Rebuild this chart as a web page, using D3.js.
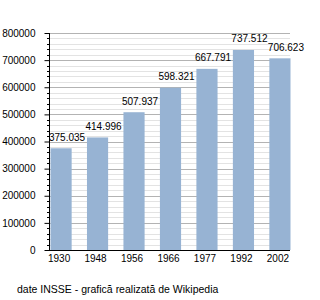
<!DOCTYPE html>
<html><head><meta charset="utf-8">
<script src="https://cdn.jsdelivr.net/npm/d3@7"></script>
<style>
html,body{margin:0;padding:0;background:#fff;}
svg{display:block;font-family:"Liberation Sans",Arial,sans-serif;}
</style></head>
<body><svg id="c" width="320" height="300"></svg>
<script>
const years = ["1930","1948","1956","1966","1977","1992","2002"];
const population = [375035, 414996, 507937, 598321, 667791, 737512, 706623];
const valueLabels = ["375.035","414.996","507.937","598.321","667.791","737.512","706.623"];
const yTicks = [0,100000,200000,300000,400000,500000,600000,700000,800000];
const footer = "date INSSE - grafică realizată de Wikipedia";

const svg = d3.select("#c");
const L = 49, R = 290, T = 33, B = 250;
const y = d3.scaleLinear().domain([0,800000]).range([B,T]);
const x = d3.scaleBand().domain(years).range([50.5,290.5]).paddingInner(0.42).paddingOuter(0);

// minor grid
const minor = d3.range(0,800001,20000).filter(v => v % 100000 !== 0);
svg.append("g").selectAll("line").data(minor).join("line")
  .attr("x1",L).attr("x2",R).attr("y1",d=>Math.round(y(d))+0.5).attr("y2",d=>Math.round(y(d))+0.5)
  .attr("stroke","#e3e3e3").attr("stroke-width",1);
// major grid
svg.append("g").selectAll("line").data(yTicks.filter(v=>v>0)).join("line")
  .attr("x1",L).attr("x2",R).attr("y1",d=>Math.round(y(d))+0.5).attr("y2",d=>Math.round(y(d))+0.5)
  .attr("stroke","#b3b3b3").attr("stroke-width",1);

// bars
svg.append("g").selectAll("rect").data(population).join("rect")
  .attr("x",(d,i)=>x(years[i])).attr("width",x.bandwidth())
  .attr("y",d=>y(d)).attr("height",d=>B-y(d))
  .attr("fill","#97b3d3");

// value labels
svg.append("g").selectAll("text").data(population).join("text")
  .attr("x",(d,i)=>x(years[i])+x.bandwidth()/2+6).attr("y",d=>y(d)-7.5)
  .attr("text-anchor","middle").attr("font-size",10).attr("fill","#000")
  .text((d,i)=>valueLabels[i]);

// y axis
const yAxis = d3.axisLeft(y).tickValues(yTicks).tickFormat(d3.format("d")).tickSize(5).tickPadding(9);
const gy = svg.append("g").attr("transform",`translate(${L+0.5},0)`).call(yAxis);
gy.select(".domain").attr("stroke","#000").attr("d",`M0,${T}V${B}`);
gy.selectAll("text").attr("font-size",10).attr("font-family","Liberation Sans, Arial, sans-serif").attr("fill","#000");
gy.selectAll(".tick line").attr("stroke","#000");
// minor ticks
svg.append("g").selectAll("line").data(minor).join("line")
  .attr("x1",L-2).attr("x2",L).attr("y1",d=>Math.round(y(d))+0.5).attr("y2",d=>Math.round(y(d))+0.5)
  .attr("stroke","#000");

// x axis
const xAxis = d3.axisBottom(x).tickSize(0).tickPadding(4);
const gx = svg.append("g").attr("transform",`translate(-2,${B+0.5})`).call(xAxis);
gx.select(".domain").remove();
gx.selectAll("text").attr("font-size",10).attr("font-family","Liberation Sans, Arial, sans-serif").attr("fill","#000");
svg.append("line").attr("x1",L).attr("x2",R).attr("y1",B+0.5).attr("y2",B+0.5).attr("stroke","#000");

// footer
svg.append("text").attr("x",17).attr("y",293).attr("font-size",10.5).attr("fill","#000").text(footer);
</script></body></html>
